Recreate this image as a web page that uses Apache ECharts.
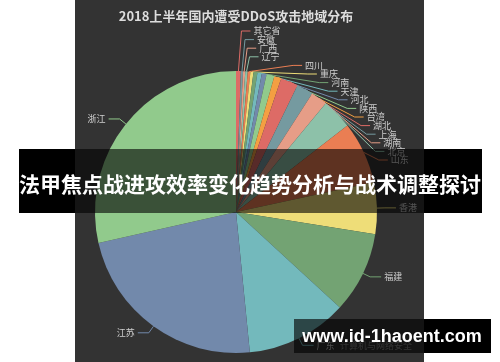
<!DOCTYPE html>
<html><head><meta charset="utf-8">
<script src="https://cdn.jsdelivr.net/npm/echarts@6/dist/echarts.min.js"></script>
<style>html,body{margin:0;padding:0;background:#fff;}#c{width:500px;height:362px;}</style>
</head><body><div id="c"></div>
<script>
const titleText = '2018上半年国内遭受DDoS攻击地域分布';
const categories = ['其它省','安徽','广西','辽宁','四川','重庆','河南','天津','河北','陕西','台湾','湖北','上海','湖南','北京','山东','香港','福建','广东','江苏','浙江'];
const values = [0.55,0.25,0.25,0.28,0.3,0.35,0.45,0.5,0.55,0.9,0.8,2.0,1.9,1.9,3.5,7.1,5.9,9.3,11.6,23.0,28.5];
const palette = ['#dd6b66','#759aa0','#e69d87','#8dc1a9','#ea7e53','#eedd78','#73a373','#73b9bc','#7289ab','#91ca8c','#f49f42'];
const bannerText = '法甲焦点战进攻效率变化趋势分析与战术调整探讨';
const watermarkText = 'www.id-1haoent.com';
const sourceText = '计算机与网络安全';

const CJK = '"Noto Sans CJK SC", "Noto Sans", sans-serif';
const CX = 236, CY = 212, R = 141, LEN1 = 8, LEN2 = 11;
// stacked label column on the upper right (first 16 items), like the original layout
const stackCount = 16, stackBottom = 160, stackGap = 8.6;

const chart = echarts.init(document.getElementById('c'), null, {renderer: 'canvas'});
const data = categories.map((n, i) => ({name: n, value: values[i]}));

chart.setOption({
  backgroundColor: 'transparent',
  color: palette,
  animation: false,
  series: [{
    type: 'pie',
    z: 2,
    center: [CX, CY],
    radius: R,
    startAngle: 90,
    avoidLabelOverlap: false,
    data: data,
    label: {show: true, position: 'outside', fontSize: 9, color: '#cfcfcf', fontFamily: CJK, distanceToLabelLine: 3},
    labelLine: {show: true, length: LEN1, length2: LEN2, lineStyle: {width: 1}},
    labelLayout: function (p) {
      const i = p.dataIndex;
      const pts = p.labelLinePoints;
      if (i >= stackCount || !pts) return {};
      const p0 = pts[0];
      const y = stackBottom - (stackCount - 1 - i) * stackGap;
      const dy = Math.abs(y - CY);
      let bendX;
      if (dy < R + LEN1) {
        const R2 = 152 + Math.max(0, dy - 120) * 0.2;
        bendX = CX + Math.sqrt(R2 * R2 - dy * dy);
      } else {
        bendX = p0[0] + 3;
      }
      const endX = bendX + 9;
      return {x: endX + 3, y: y, align: 'left', verticalAlign: 'middle',
              labelLinePoints: [p0, [bendX, y], [endX, y]]};
    },
    itemStyle: {borderWidth: 0}
  }],
  graphic: [
    {type: 'rect', z: -10, silent: true, shape: {x: 75, y: 0, width: 349, height: 362}, style: {fill: '#333333'}},
    {type: 'text', z: 5, silent: true, style: {text: titleText, x: 236, y: 16, textAlign: 'center', textVerticalAlign: 'middle', fill: '#dddddd', font: 'bold 13px ' + CJK}},
    {type: 'text', z: 5, silent: true, style: {text: sourceText, x: 376, y: 346, textAlign: 'center', textVerticalAlign: 'middle', fill: '#8a8a8a', font: '9px ' + CJK}},
    {type: 'rect', z: 50, silent: true, shape: {x: 19, y: 149, width: 56, height: 64}, style: {fill: '#000'}},
    {type: 'rect', z: 50, silent: true, shape: {x: 424, y: 149, width: 58, height: 64}, style: {fill: '#000'}},
    {type: 'rect', z: 50, silent: true, shape: {x: 75, y: 149, width: 349, height: 64}, style: {fill: 'rgba(0,0,0,0.6)'}},
    {type: 'text', z: 60, silent: true, style: {text: bannerText, x: 250, y: 184, textAlign: 'center', textVerticalAlign: 'middle', fill: '#ffffff', font: 'bold 21px ' + CJK}},
    {type: 'rect', z: 50, silent: true, shape: {x: 424, y: 319, width: 67, height: 34}, style: {fill: '#000'}},
    {type: 'rect', z: 50, silent: true, shape: {x: 294, y: 319, width: 130, height: 34}, style: {fill: 'rgba(0,0,0,0.62)'}},
    {type: 'text', z: 60, silent: true, style: {text: watermarkText, x: 392, y: 337, textAlign: 'center', textVerticalAlign: 'middle', fill: '#ffffff', font: 'bold 18px "Liberation Sans", Arial, sans-serif'}}
  ]
});
</script>
</body></html>
